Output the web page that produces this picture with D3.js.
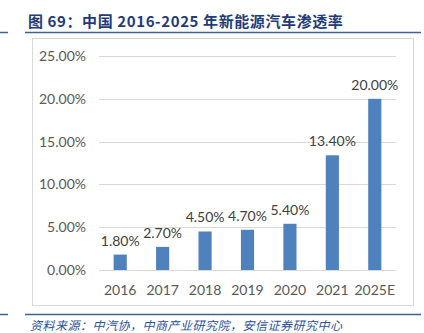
<!DOCTYPE html>
<html><head><meta charset="utf-8">
<script src="https://cdn.jsdelivr.net/npm/d3@7"></script>
<style>body{margin:0;background:#fff;}svg{display:block;}</style>
</head><body>
<script>
const categories = ["2016","2017","2018","2019","2020","2021","2025E"];
const values = [1.8, 2.7, 4.5, 4.7, 5.4, 13.4, 20.0];
const yTicks = [0, 5, 10, 15, 20, 25];
const titleText = "图 69：中国 2016-2025 年新能源汽车渗透率";
const sourceText = "资料来源：中汽协，中商产业研究院，安信证券研究中心";

const W = 424, H = 333;
const svg = d3.select("body").append("svg").attr("width", W).attr("height", H);

// title
svg.append("text").attr("x", 28).attr("y", 27)
  .attr("font-family", "Noto Sans CJK SC, sans-serif").attr("font-weight", "bold")
  .attr("font-size", 15).attr("letter-spacing", 0.6).attr("fill", "#1f3b7a").text(titleText);
const lineColor = "#3f5f9f";
[[0,8],[25,421]].forEach(([a,b]) => {
  svg.append("line").attr("x1", a).attr("x2", b).attr("y1", 32.5).attr("y2", 32.5)
    .attr("stroke", lineColor).attr("stroke-width", 1.5);
  svg.append("line").attr("x1", a).attr("x2", b).attr("y1", 314.5).attr("y2", 314.5)
    .attr("stroke", lineColor).attr("stroke-width", 1.5);
});
// chart box
svg.append("rect").attr("x", 32.5).attr("y", 38.5).attr("width", 381).attr("height", 267)
  .attr("fill", "#fff").attr("stroke", "#d9d9d9");

// source
svg.append("text").attr("x", 30).attr("y", 330)
  .attr("font-family", "Noto Sans CJK SC, sans-serif").attr("font-style", "italic")
  .attr("font-size", 12).attr("letter-spacing", 0.5).attr("fill", "#2a4f9c").text(sourceText);

const x = d3.scaleBand().domain(categories).range([99, 396]).paddingInner(0.69).paddingOuter(0.345);
const y = d3.scaleLinear().domain([0, 25]).range([270, 56]);

const font = "Lato, Carlito, 'Liberation Sans', sans-serif";
const g = svg.append("g");
// gridlines
g.selectAll("line.grid").data(yTicks).enter().append("line")
  .attr("x1", 99).attr("x2", 396).attr("y1", d => Math.round(y(d)) + 0.5).attr("y2", d => Math.round(y(d)) + 0.5)
  .attr("stroke", "#d9d9d9").attr("stroke-width", 1);
// y tick labels
g.selectAll("text.yt").data(yTicks).enter().append("text")
  .attr("x", 86).attr("y", d => y(d) + 5).attr("text-anchor", "end")
  .attr("font-family", font).attr("font-size", 14).attr("fill", "#595959")
  .text(d => d.toFixed(2) + "%");
// bars
g.selectAll("rect.bar").data(values).enter().append("rect")
  .attr("x", (d, i) => x(categories[i])).attr("width", x.bandwidth())
  .attr("y", d => y(d)).attr("height", d => y(0) - y(d))
  .attr("fill", "#4f81bd");
// value labels
g.selectAll("text.vl").data(values).enter().append("text")
  .attr("x", (d, i) => x(categories[i]) + x.bandwidth() / 2).attr("y", d => y(d) - 9)
  .attr("text-anchor", "middle").attr("font-family", font).attr("font-size", 14).attr("fill", "#404040")
  .text(d => d.toFixed(2) + "%");
// x labels
g.selectAll("text.xl").data(categories).enter().append("text")
  .attr("x", d => x(d) + x.bandwidth() / 2).attr("y", 295)
  .attr("text-anchor", "middle").attr("font-family", font).attr("font-size", 14).attr("fill", "#595959")
  .text(d => d);
</script>
</body></html>
